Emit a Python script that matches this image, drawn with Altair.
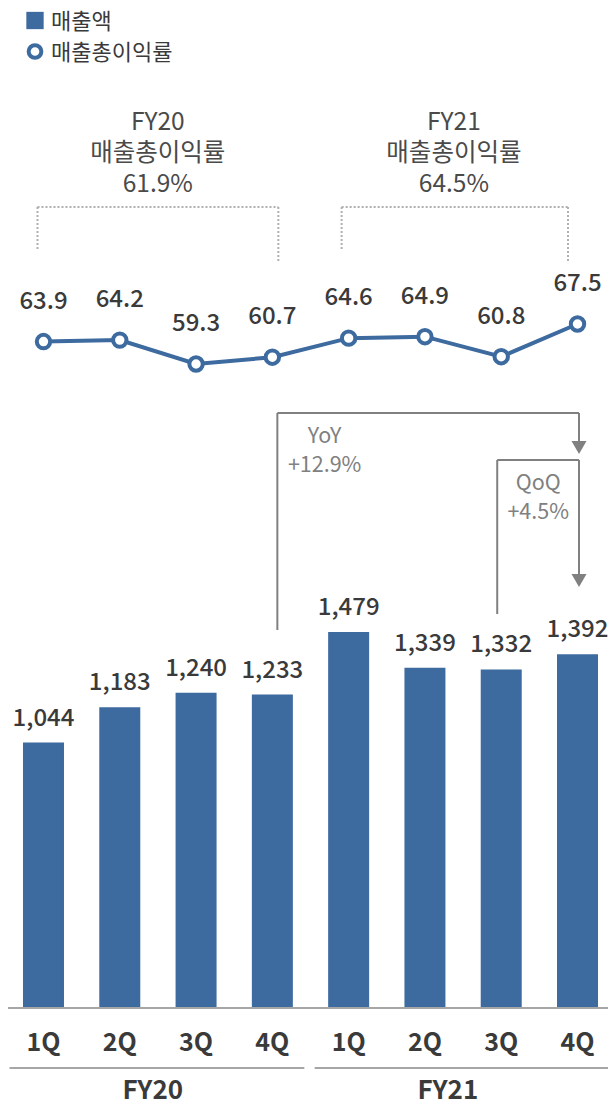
import altair as alt
import pandas as pd

# ---------------- data ----------------
quarters = ["1Q", "2Q", "3Q", "4Q", "1Q", "2Q", "3Q", "4Q"]
years = ["FY20", "FY20", "FY20", "FY20", "FY21", "FY21", "FY21", "FY21"]
revenue = [1044, 1183, 1240, 1233, 1479, 1339, 1332, 1392]
gross_margin = [63.9, 64.2, 59.3, 60.7, 64.6, 64.9, 60.8, 67.5]
fy_labels = ["FY20", "FY21"]
fy_margin = [61.9, 64.5]
legend_labels = ["매출액", "매출총이익률"]

keys = [f"{y} {q}" for y, q in zip(years, quarters)]
df = pd.DataFrame({"key": keys, "year": years, "quarter": quarters,
                   "revenue": revenue, "margin": gross_margin})

yoy = revenue[7] / revenue[3] - 1
qoq = revenue[7] / revenue[6] - 1

# ---------------- style ----------------
BLUE = "#3d6a9f"
TEXT = "#3a3a3a"
GRAY = "#808080"
DOT = "#b0b0b0"
FONT = "Noto Sans CJK KR"

W, H = 600, 1000

xscale = alt.Scale(domain=keys, range=[2.5, 602.5], paddingInner=0.4626, paddingOuter=0.1637)
ybar = alt.Scale(domain=[0, 3934], nice=False)
yline = alt.Scale(domain=[59.3, 67.5], range=[356, 316], zero=False, nice=False)


def xc(field="key"):
    return alt.X(f"{field}:N", scale=xscale, axis=None, bandPosition=0.5, title=None)


def vseg(key, y1, y2, dx, **style):
    d = pd.DataFrame({"k": [key]})
    return alt.Chart(d).mark_rule(xOffset=dx, **style).encode(
        x=xc("k"), y=alt.value(y1), y2=alt.value(y2))


def hseg(k1, k2, y, dx1, dx2, **style):
    d = pd.DataFrame({"k": [k1], "k2": [k2]})
    return alt.Chart(d).mark_rule(xOffset=dx1, x2Offset=dx2, **style).encode(
        x=xc("k"), x2=alt.X2("k2:N", bandPosition=0.5), y=alt.value(y))


base = alt.Chart(df)

bars = base.mark_bar(color=BLUE).encode(
    x=alt.X("key:N", scale=xscale, title=None, axis=None),
    y=alt.Y("revenue:Q", scale=ybar, axis=None),
)
baseline = alt.Chart(pd.DataFrame({"v": [0]})).mark_rule(
    color="#a6a6a6", strokeWidth=2).encode(
    x=alt.value(-2), x2=alt.value(608),
    y=alt.Y("v:Q", scale=ybar, axis=None))
quarter_labels = base.mark_text(baseline="middle", fontSize=25, fontWeight="bold",
                                color=TEXT, font=FONT).encode(
    x=xc(), y=alt.value(1035), text="quarter:N")

bar_labels = base.mark_text(dy=-24, baseline="middle", fontSize=24, fontWeight=500,
                            color=TEXT, font=FONT).encode(
    x=xc(), y=alt.Y("revenue:Q", scale=ybar, axis=None),
    text=alt.Text("revenue:Q", format=","))

line = base.mark_line(color=BLUE, strokeWidth=4).encode(
    x=xc(), y=alt.Y("margin:Q", scale=yline, axis=None))
points = base.mark_point(filled=True, fill="white", stroke=BLUE, strokeWidth=4,
                         size=180, opacity=1).encode(
    x=xc(), y=alt.Y("margin:Q", scale=yline, axis=None))
line_labels = base.mark_text(dy=-40, baseline="middle", fontSize=24, fontWeight=500,
                             color=TEXT, font=FONT).encode(
    x=xc(), y=alt.Y("margin:Q", scale=yline, axis=None),
    text=alt.Text("margin:Q", format=".1f"))

# ---------------- FY margin annotations ----------------
fy_df = pd.DataFrame({"year": fy_labels, "avg": fy_margin,
                      "anchor": [f"{y} 2Q" for y in fy_labels]})
layers_fy = []
for i, dx in enumerate([38, 29]):
    layers_fy.append(
        alt.Chart(fy_df.iloc[[i]]).transform_calculate(
            txt="datum.year + '\\n매출총이익률\\n' + format(datum.avg, '.1f') + '%'"
        ).mark_text(lineBreak="\n", lineHeight=31, baseline="middle", fontSize=24.5,
                    color="#4a4a4a", font=FONT, xOffset=dx).encode(
            x=xc("anchor"), y=alt.value(115), text="txt:N"))

dotted = dict(color=DOT, strokeWidth=2, strokeDash=[2, 2])
brackets = [
    hseg("FY20 1Q", "FY20 4Q", 199, -6, 6, **dotted),
    vseg("FY20 1Q", 199, 242, -6, **dotted),
    vseg("FY20 4Q", 199, 254, 6, **dotted),
    hseg("FY21 1Q", "FY21 4Q", 199, -7, -9.5, **dotted),
    vseg("FY21 1Q", 199, 242, -7, **dotted),
    vseg("FY21 4Q", 199, 254, -9.5, **dotted),
]

# ---------------- YoY / QoQ arrows ----------------
solid = dict(color=GRAY, strokeWidth=2)
arrows = [
    vseg("FY20 4Q", 622, 405, 5, **solid),
    hseg("FY20 4Q", "FY21 4Q", 405, 5, 1.5, **solid),
    vseg("FY21 4Q", 405, 436, 1.5, **solid),
    vseg("FY21 3Q", 606, 452, -4, **solid),
    hseg("FY21 3Q", "FY21 4Q", 452, -4, 1.5, **solid),
    vseg("FY21 4Q", 452, 568, 1.5, **solid),
]
head_df = pd.DataFrame({"k": ["FY21 4Q"]})
heads = [
    alt.Chart(head_df).mark_point(shape="triangle-down", filled=True, color=GRAY,
                                  size=225, opacity=1, xOffset=1.5).encode(
        x=xc("k"), y=alt.value(yv))
    for yv in [439.5, 572.5]
]
chg_df = pd.DataFrame({"k": ["FY21 1Q", "FY21 3Q"],
                       "name": ["YoY", "QoQ"],
                       "chg": [yoy, qoq]})
chg_layers = []
for i, (dx, yv) in enumerate([(-24, 429), (37, 476)]):
    chg_layers.append(
        alt.Chart(chg_df.iloc[[i]]).transform_calculate(
            txt="datum.name + '\\n+' + format(datum.chg * 100, '.1f') + '%'"
        ).mark_text(lineBreak="\n", lineHeight=29, baseline="middle", fontSize=21.5,
                    color=GRAY, font=FONT, xOffset=dx).encode(
            x=xc("k"), y=alt.value(yv), text="txt:N"))

# ---------------- FY group lines below axis ----------------
grp_df = pd.DataFrame({"k": ["FY20 1Q", "FY21 1Q"], "k2": ["FY20 4Q", "FY21 4Q"],
                       "year": fy_labels, "mid": ["FY20 2Q", "FY21 2Q"]})
grp_lines = alt.Chart(grp_df).mark_rule(color="#a6a6a6", strokeWidth=2,
                                        xOffset=-34, x2Offset=32).encode(
    x=xc("k"), x2=alt.X2("k2:N", bandPosition=0.5), y=alt.value(1060))
grp_text = [
    alt.Chart(grp_df.iloc[[i]]).mark_text(baseline="middle", fontSize=26, fontWeight="bold",
                                          color=TEXT, font=FONT, xOffset=dx).encode(
        x=xc("mid"), y=alt.value(1083), text="year:N")
    for i, dx in enumerate([33, 23])
]

# ---------------- legend ----------------
leg_df = pd.DataFrame({"label": legend_labels})
legend = [
    alt.Chart(leg_df.iloc[[0]]).mark_square(size=300, color=BLUE, opacity=1).encode(
        x=alt.value(27), y=alt.value(12.5)),
    alt.Chart(leg_df.iloc[[1]]).mark_point(shape="circle", filled=True, fill="white",
                                           stroke=BLUE, strokeWidth=4, size=160,
                                           opacity=1).encode(
        x=alt.value(27), y=alt.value(43.5)),
    alt.Chart(leg_df.iloc[[0]]).mark_text(align="left", baseline="middle", fontSize=22,
                                          color=TEXT, font=FONT, dy=1).encode(
        x=alt.value(43), y=alt.value(12.5), text="label:N"),
    alt.Chart(leg_df.iloc[[1]]).mark_text(align="left", baseline="middle", fontSize=22,
                                          color=TEXT, font=FONT, dy=1).encode(
        x=alt.value(43), y=alt.value(43.5), text="label:N"),
]

chart = alt.layer(
    bars, baseline, quarter_labels, bar_labels, *brackets, *layers_fy,
    line, points, line_labels,
    *arrows, *heads, *chg_layers, grp_lines, *grp_text, *legend,
).resolve_scale(y="independent").properties(
    width=W, height=H,
    padding={"left": 0, "right": 0, "top": 0, "bottom": 92},
    autosize=alt.AutoSizeParams(type="none"),
).configure(font=FONT, background="white").configure_view(stroke=None)

chart.save("out.html", embed_options={"renderer": "svg", "actions": False})
